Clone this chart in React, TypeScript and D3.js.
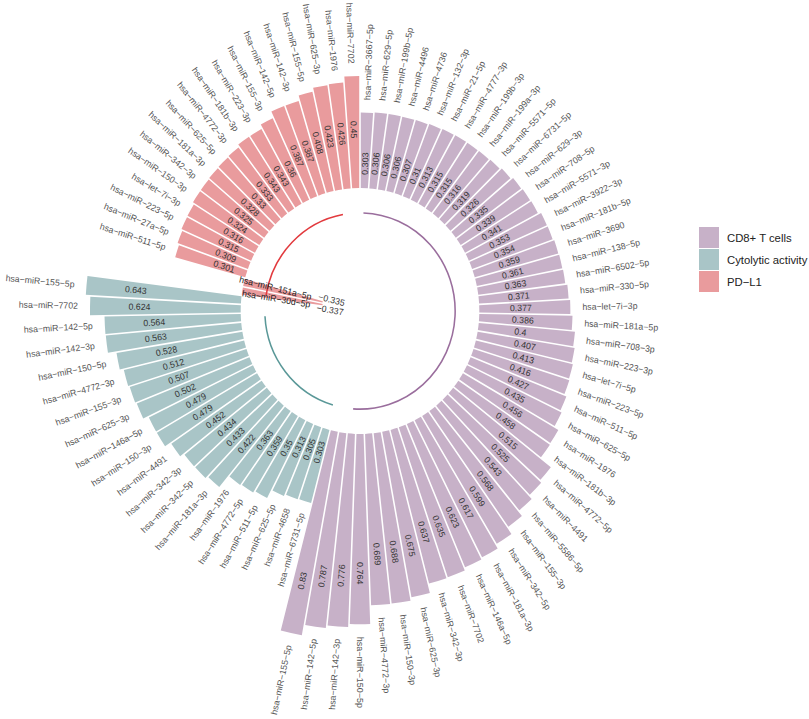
import * as d3 from 'd3';
import { useMemo } from 'react';

// clockwise from 12 o'clock, each group sorted by value
const CD8_NAMES = [
    'hsa-miR-3667-5p', 'hsa-miR-629-5p', 'hsa-miR-199b-5p', 'hsa-miR-4496', 'hsa-miR-4736',
    'hsa-miR-132-3p', 'hsa-miR-21-5p', 'hsa-miR-4777-3p', 'hsa-miR-199b-3p', 'hsa-miR-199a-3p',
    'hsa-miR-5571-5p', 'hsa-miR-6731-5p', 'hsa-miR-629-3p', 'hsa-miR-708-5p', 'hsa-miR-5571-3p',
    'hsa-miR-3922-3p', 'hsa-miR-181b-5p', 'hsa-miR-3690', 'hsa-miR-138-5p', 'hsa-miR-6502-5p',
    'hsa-miR-330-5p', 'hsa-let-7i-3p', 'hsa-miR-181a-5p', 'hsa-miR-708-3p', 'hsa-miR-223-3p',
    'hsa-let-7i-5p', 'hsa-miR-223-5p', 'hsa-miR-511-5p', 'hsa-miR-625-5p', 'hsa-miR-1976',
    'hsa-miR-181b-3p', 'hsa-miR-4772-5p', 'hsa-miR-4491', 'hsa-miR-5586-5p', 'hsa-miR-155-3p',
    'hsa-miR-342-5p', 'hsa-miR-181a-3p', 'hsa-miR-146a-5p', 'hsa-miR-7702', 'hsa-miR-342-3p',
    'hsa-miR-625-3p', 'hsa-miR-150-3p', 'hsa-miR-4772-3p', 'hsa-miR-150-5p', 'hsa-miR-142-3p',
    'hsa-miR-142-5p', 'hsa-miR-155-5p',
];
const CD8_VALUES = [
    0.303, 0.306, 0.306, 0.306, 0.307, 0.31, 0.313, 0.315, 0.315, 0.316, 0.319, 0.326, 0.335,
    0.339, 0.341, 0.353, 0.354, 0.359, 0.361, 0.363, 0.371, 0.377, 0.386, 0.4, 0.407, 0.413,
    0.416, 0.427, 0.435, 0.456, 0.458, 0.515, 0.525, 0.543, 0.568, 0.599, 0.617, 0.623, 0.635,
    0.637, 0.675, 0.688, 0.689, 0.764, 0.776, 0.787, 0.83,
];

const CYT_NAMES = [
    'hsa-miR-6731-5p', 'hsa-miR-4658', 'hsa-miR-625-5p', 'hsa-miR-511-5p', 'hsa-miR-4772-5p',
    'hsa-miR-1976', 'hsa-miR-181a-3p', 'hsa-miR-342-5p', 'hsa-miR-342-3p', 'hsa-miR-4491',
    'hsa-miR-150-3p', 'hsa-miR-146a-5p', 'hsa-miR-625-3p', 'hsa-miR-155-3p', 'hsa-miR-4772-3p',
    'hsa-miR-150-5p', 'hsa-miR-142-3p', 'hsa-miR-142-5p', 'hsa-miR-7702', 'hsa-miR-155-5p',
];
const CYT_VALUES = [
    0.303, 0.305, 0.313, 0.35, 0.359, 0.363, 0.422, 0.433, 0.434, 0.452, 0.479, 0.479, 0.502,
    0.507, 0.512, 0.528, 0.563, 0.564, 0.624, 0.643,
];

const PDL1_NAMES = [
    'hsa-miR-30d-5p', 'hsa-miR-151a-5p', 'hsa-miR-511-5p', 'hsa-miR-27a-5p', 'hsa-miR-223-5p',
    'hsa-let-7i-3p', 'hsa-miR-150-3p', 'hsa-miR-342-3p', 'hsa-miR-181a-3p', 'hsa-miR-625-5p',
    'hsa-miR-4772-3p', 'hsa-miR-181b-3p', 'hsa-miR-223-3p', 'hsa-miR-155-3p', 'hsa-miR-142-5p',
    'hsa-miR-142-3p', 'hsa-miR-155-5p', 'hsa-miR-625-3p', 'hsa-miR-1976', 'hsa-miR-7702',
];
const PDL1_VALUES = [
    -0.337, -0.335, 0.301, 0.309, 0.315, 0.316, 0.324, 0.325, 0.328, 0.33, 0.333, 0.343, 0.343,
    0.36, 0.387, 0.387, 0.408, 0.423, 0.426, 0.45,
];

const GROUPS = ['CD8+ T cells', 'Cytolytic activity', 'PD-L1'];
const FILLS = ['#c7b1c8', '#a9c5c7', '#e99b9d'];
const LINES = ['#9a6e9d', '#5a9898', '#e23a3e'];

const W = 809;
const H = 719;
const CX = 360;
const CY = 311;
const SX = 0.97;

const minus = (s: string) => s.replace(/-/g, '\u2212');

export default function App() {
    const rows = useMemo(() => {
        const all: { name: string; value: number; group: number }[] = [];
        [
            [CD8_NAMES, CD8_VALUES],
            [CYT_NAMES, CYT_VALUES],
            [PDL1_NAMES, PDL1_VALUES],
        ].forEach(([names, values], g) =>
            (names as string[]).forEach((n, i) =>
                all.push({ name: n, value: (values as number[])[i], group: g })
            )
        );
        return all.map((d, i) => ({ ...d, id: i }));
    }, []);

    const negIds = rows.filter((d) => d.value < 0).map((d) => d.id);
    // spread the labels of the few negative bars so they don't pile up near the centre
    const negShift = (id: number, step: number) => {
        const k = negIds.indexOf(id);
        return k < 0 ? 0 : ((negIds.length - 1) / 2 - k) * step;
    };

    const x = d3
        .scaleBand<number>()
        .domain(rows.map((d) => d.id))
        .range([0, 2 * Math.PI])
        .padding(0);
    const y = d3.scaleLinear().domain([0, 1]).range([123, 372]);

    const bar = d3
        .arc<any>()
        .innerRadius((d) => y(Math.min(0, d.value)))
        .outerRadius((d) => y(Math.max(0, d.value)))
        .startAngle((d) => x(d.id)!)
        .endAngle((d) => x(d.id)! + x.bandwidth())
        .padAngle(0.008)
        .padRadius(200);

    const mid = (id: number) => x(id)! + x.bandwidth() / 2;

    const place = (id: number, r: number) => {
        const a = mid(id);
        const deg = (a * 180) / Math.PI;
        const flip = deg > 180.0001;
        return {
            transform: `translate(${r * Math.sin(a)},${-r * Math.cos(a)}) rotate(${flip ? deg + 90 : deg - 90})`,
            anchor: flip ? 'end' : 'start',
        };
    };

    // group baselines from first bar to the third-last bar of each group
    const groupArcs = GROUPS.map((_, g) => {
        const ids = rows.filter((d) => d.group === g).map((d) => d.id);
        const a0 = mid(ids[0]) - Math.PI / 2;
        const a1 = mid(ids[ids.length - 3]) - Math.PI / 2;
        const p = d3.path();
        p.arc(0, 0, y(-0.1), a0, a1);
        return p.toString();
    });

    return (
        <svg
            width={W}
            height={H}
            style={{ position: 'absolute', left: 0, top: 0, background: '#fff' }}
            fontFamily="'Liberation Sans', Arial, sans-serif"
        >
            <g transform={`translate(${CX},${CY}) scale(${SX},1)`}>
                {rows.map((d) => (
                    <path key={`b${d.id}`} d={bar(d)!} fill={FILLS[d.group]} />
                ))}
                {groupArcs.map((p, g) => (
                    <path key={`g${g}`} d={p} fill="none" stroke={LINES[g]} strokeWidth={1.6} />
                ))}
                {rows.map((d) => {
                    const t = place(d.id, y(d.value + 0.05));
                    return (
                        <text
                            key={`n${d.id}`}
                            transform={t.transform}
                            textAnchor={t.anchor}
                            dominantBaseline="central"
                            dy={negShift(d.id, 4)}
                            fontSize={9}
                            fill={d.value < 0 ? '#222' : '#555'}
                        >
                            {minus(d.name)}
                        </text>
                    );
                })}
                {rows.map((d) => {
                    const t = place(d.id, y(d.value >= 0 ? d.value - 0.25 : d.value - 0.09));
                    return (
                        <text
                            key={`v${d.id}`}
                            transform={t.transform}
                            textAnchor={t.anchor}
                            dominantBaseline="central"
                            dy={negShift(d.id, 8)}
                            fontSize={9}
                            fill="#333"
                        >
                            {minus(String(d.value))}
                        </text>
                    );
                })}
            </g>
            <g transform="translate(699,227)">
                {GROUPS.map((g, i) => (
                    <g key={g} transform={`translate(0,${i * 22})`}>
                        <rect width={20} height={21} fill={FILLS[i]} />
                        <text x={28} y={10.5} dominantBaseline="central" fontSize={11.3} fill="#222">
                            {minus(g)}
                        </text>
                    </g>
                ))}
            </g>
        </svg>
    );
}
